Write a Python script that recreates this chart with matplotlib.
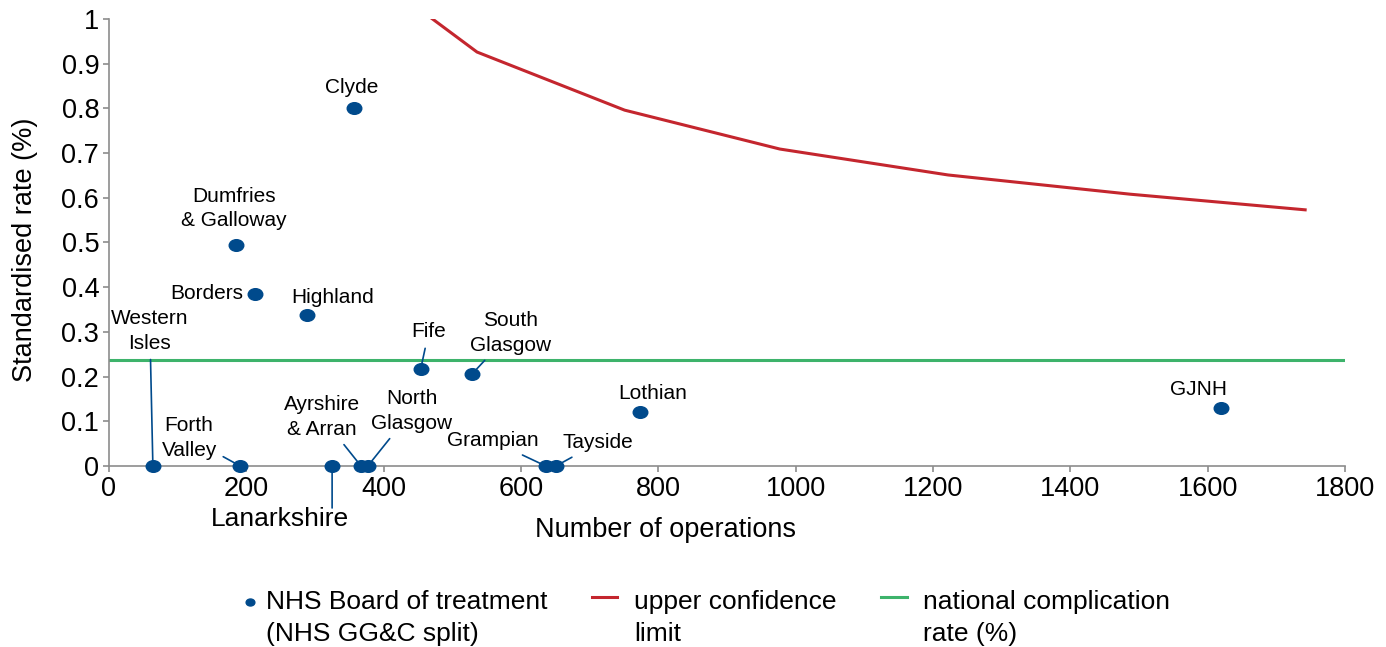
import matplotlib.pyplot as plt
import numpy as np
from matplotlib.path import Path
from matplotlib.transforms import Affine2D
from matplotlib.legend_handler import HandlerLine2D, HandlerPathCollection

plt.rcParams['font.family'] = ['Liberation Sans', 'DejaVu Sans']

# Boards: number of operations vs standardised rate
boards = ["Clyde", "Dumfries\n& Galloway", "Borders", "Highland", "Fife",
          "South\nGlasgow", "Lothian", "GJNH", "Western\nIsles", "Forth\nValley",
          "Lanarkshire", "Ayrshire\n& Arran", "North\nGlasgow", "Grampian", "Tayside"]
operations = [357, 185, 213, 288, 454, 529, 773, 1619, 64, 191, 325, 367, 377, 636, 651]
rates = [0.801, 0.494, 0.385, 0.338, 0.217, 0.206, 0.121, 0.130, 0, 0, 0, 0, 0, 0, 0]

# upper confidence limit curve
ucl_x = [296, 536, 751, 977, 1222, 1487, 1742]
ucl_y = [1.20, 0.926, 0.796, 0.709, 0.651, 0.608, 0.573]

national_rate = 0.237

# label offsets in pixels (dx, dy), alignment, leader line flag
label_pos = {
    "Clyde": (-2, 20, 'center', False),
    "Dumfries\n& Galloway": (-2, 37, 'center', False),
    "Borders": (-12, 0, 'right', False),
    "Highland": (26, 17, 'center', False),
    "Fife": (8, 37, 'center', True),
    "South\nGlasgow": (38, 41, 'center', True),
    "Lothian": (13, 18, 'center', False),
    "GJNH": (-22, 18, 'center', False),
    "Western\nIsles": (-3, 135, 'center', True),
    "Forth\nValley": (-51, 28, 'center', True),
    "Lanarkshire": (-52, -53, 'center', True),
    "Ayrshire\n& Arran": (-39, 49, 'center', True),
    "North\nGlasgow": (44, 55, 'center', True),
    "Grampian": (-53, 25, 'center', True),
    "Tayside": (42, 23, 'center', True),
}

blue = '#004a8c'
red = '#c4262e'
green = '#3db36b'
grey = '#8c8c8c'


# legend handles sit level with the first line of the two-line labels
class TopLine(HandlerLine2D):
    def create_artists(self, legend, orig_handle, xdescent, ydescent, width, height, fontsize, trans):
        arts = super().create_artists(legend, orig_handle, xdescent, ydescent, width, height, fontsize, trans)
        for a in arts:
            a.set_ydata(np.asarray(a.get_ydata()) + 15.5)
        return arts


class TopDot(HandlerPathCollection):
    def create_artists(self, legend, orig_handle, xdescent, ydescent, width, height, fontsize, trans):
        arts = super().create_artists(legend, orig_handle, xdescent, ydescent, width, height, fontsize, trans)
        for a in arts:
            a.set_offsets(a.get_offsets() + np.array([10.0, 13.5]))
        return arts


fig = plt.figure(figsize=(13.86, 6.47), dpi=100)
ax = fig.add_axes([0.0786, 0.2798, 0.8918, 0.6909])

ellipse = Path.unit_circle().transformed(Affine2D().scale(1.0, 0.8))

ucl_line, = ax.plot(ucl_x, ucl_y, color=red, lw=2.2, zorder=2)
nat_line, = ax.plot([0, 1800], [national_rate, national_rate], color=green, lw=2.2, zorder=2)
dots = ax.scatter(operations, rates, marker=ellipse, s=110, color=blue, zorder=4, clip_on=False)

for name, x, y in zip(boards, operations, rates):
    dx, dy, ha, lead = label_pos[name]
    if name == "Lanarkshire":
        # leader goes straight down from the dot, label further below
        ax.annotate("", xy=(x, y), xytext=(0, -42), textcoords='offset pixels',
                    arrowprops=dict(arrowstyle='-', color=blue, lw=1.2,
                                    shrinkA=0, shrinkB=4), annotation_clip=False)
        ax.annotate(name, xy=(x, y), xytext=(dx, dy), textcoords='offset pixels',
                    ha='center', va='center', fontsize=19, annotation_clip=False)
        continue
    arrow = None
    if lead:
        arrow = dict(arrowstyle='-', color=blue, lw=1.2, shrinkA=3, shrinkB=4)
    ax.annotate(name, xy=(x, y), xytext=(dx, dy), textcoords='offset pixels',
                ha=ha, va='center', fontsize=15, linespacing=1.35,
                arrowprops=arrow, annotation_clip=False)

ax.set_xlim(0, 1800)
ax.set_ylim(0, 1)
ax.set_xticks(np.arange(0, 1801, 200))
ax.set_yticks(np.arange(0, 1.01, 0.1))
ax.set_yticklabels(['0', '0.1', '0.2', '0.3', '0.4', '0.5', '0.6', '0.7', '0.8', '0.9', '1'])

for side in ['top', 'right']:
    ax.spines[side].set_visible(False)
for side in ['left', 'bottom']:
    ax.spines[side].set_color(grey)
    ax.spines[side].set_linewidth(1.2)
ax.tick_params(colors=grey, labelcolor='black', labelsize=19.5, length=4, width=1.2, pad=3)

ax.set_xlabel("Number of operations", fontsize=19.5)
ax.set_ylabel("Standardised rate (%)", fontsize=19.5)
ax.xaxis.set_label_coords(0.45, -0.114)
ax.yaxis.set_label_coords(-0.057, 0.483)

leg = fig.legend([dots, ucl_line, nat_line],
                 ['NHS Board of treatment\n(NHS GG&C split)', 'upper confidence\nlimit',
                  'national complication\nrate (%)'],
                 handler_map={dots: TopDot(), ucl_line: TopLine(), nat_line: TopLine()},
                 loc='lower center', bbox_to_anchor=(0.503, -0.035), ncol=3, frameon=False,
                 fontsize=19, handlelength=0.95, handletextpad=0.64, columnspacing=1.7,
                 markerscale=0.6)
for t in leg.get_texts():
    t.set_linespacing(1.4)

fig.savefig("out.png", dpi=100)
